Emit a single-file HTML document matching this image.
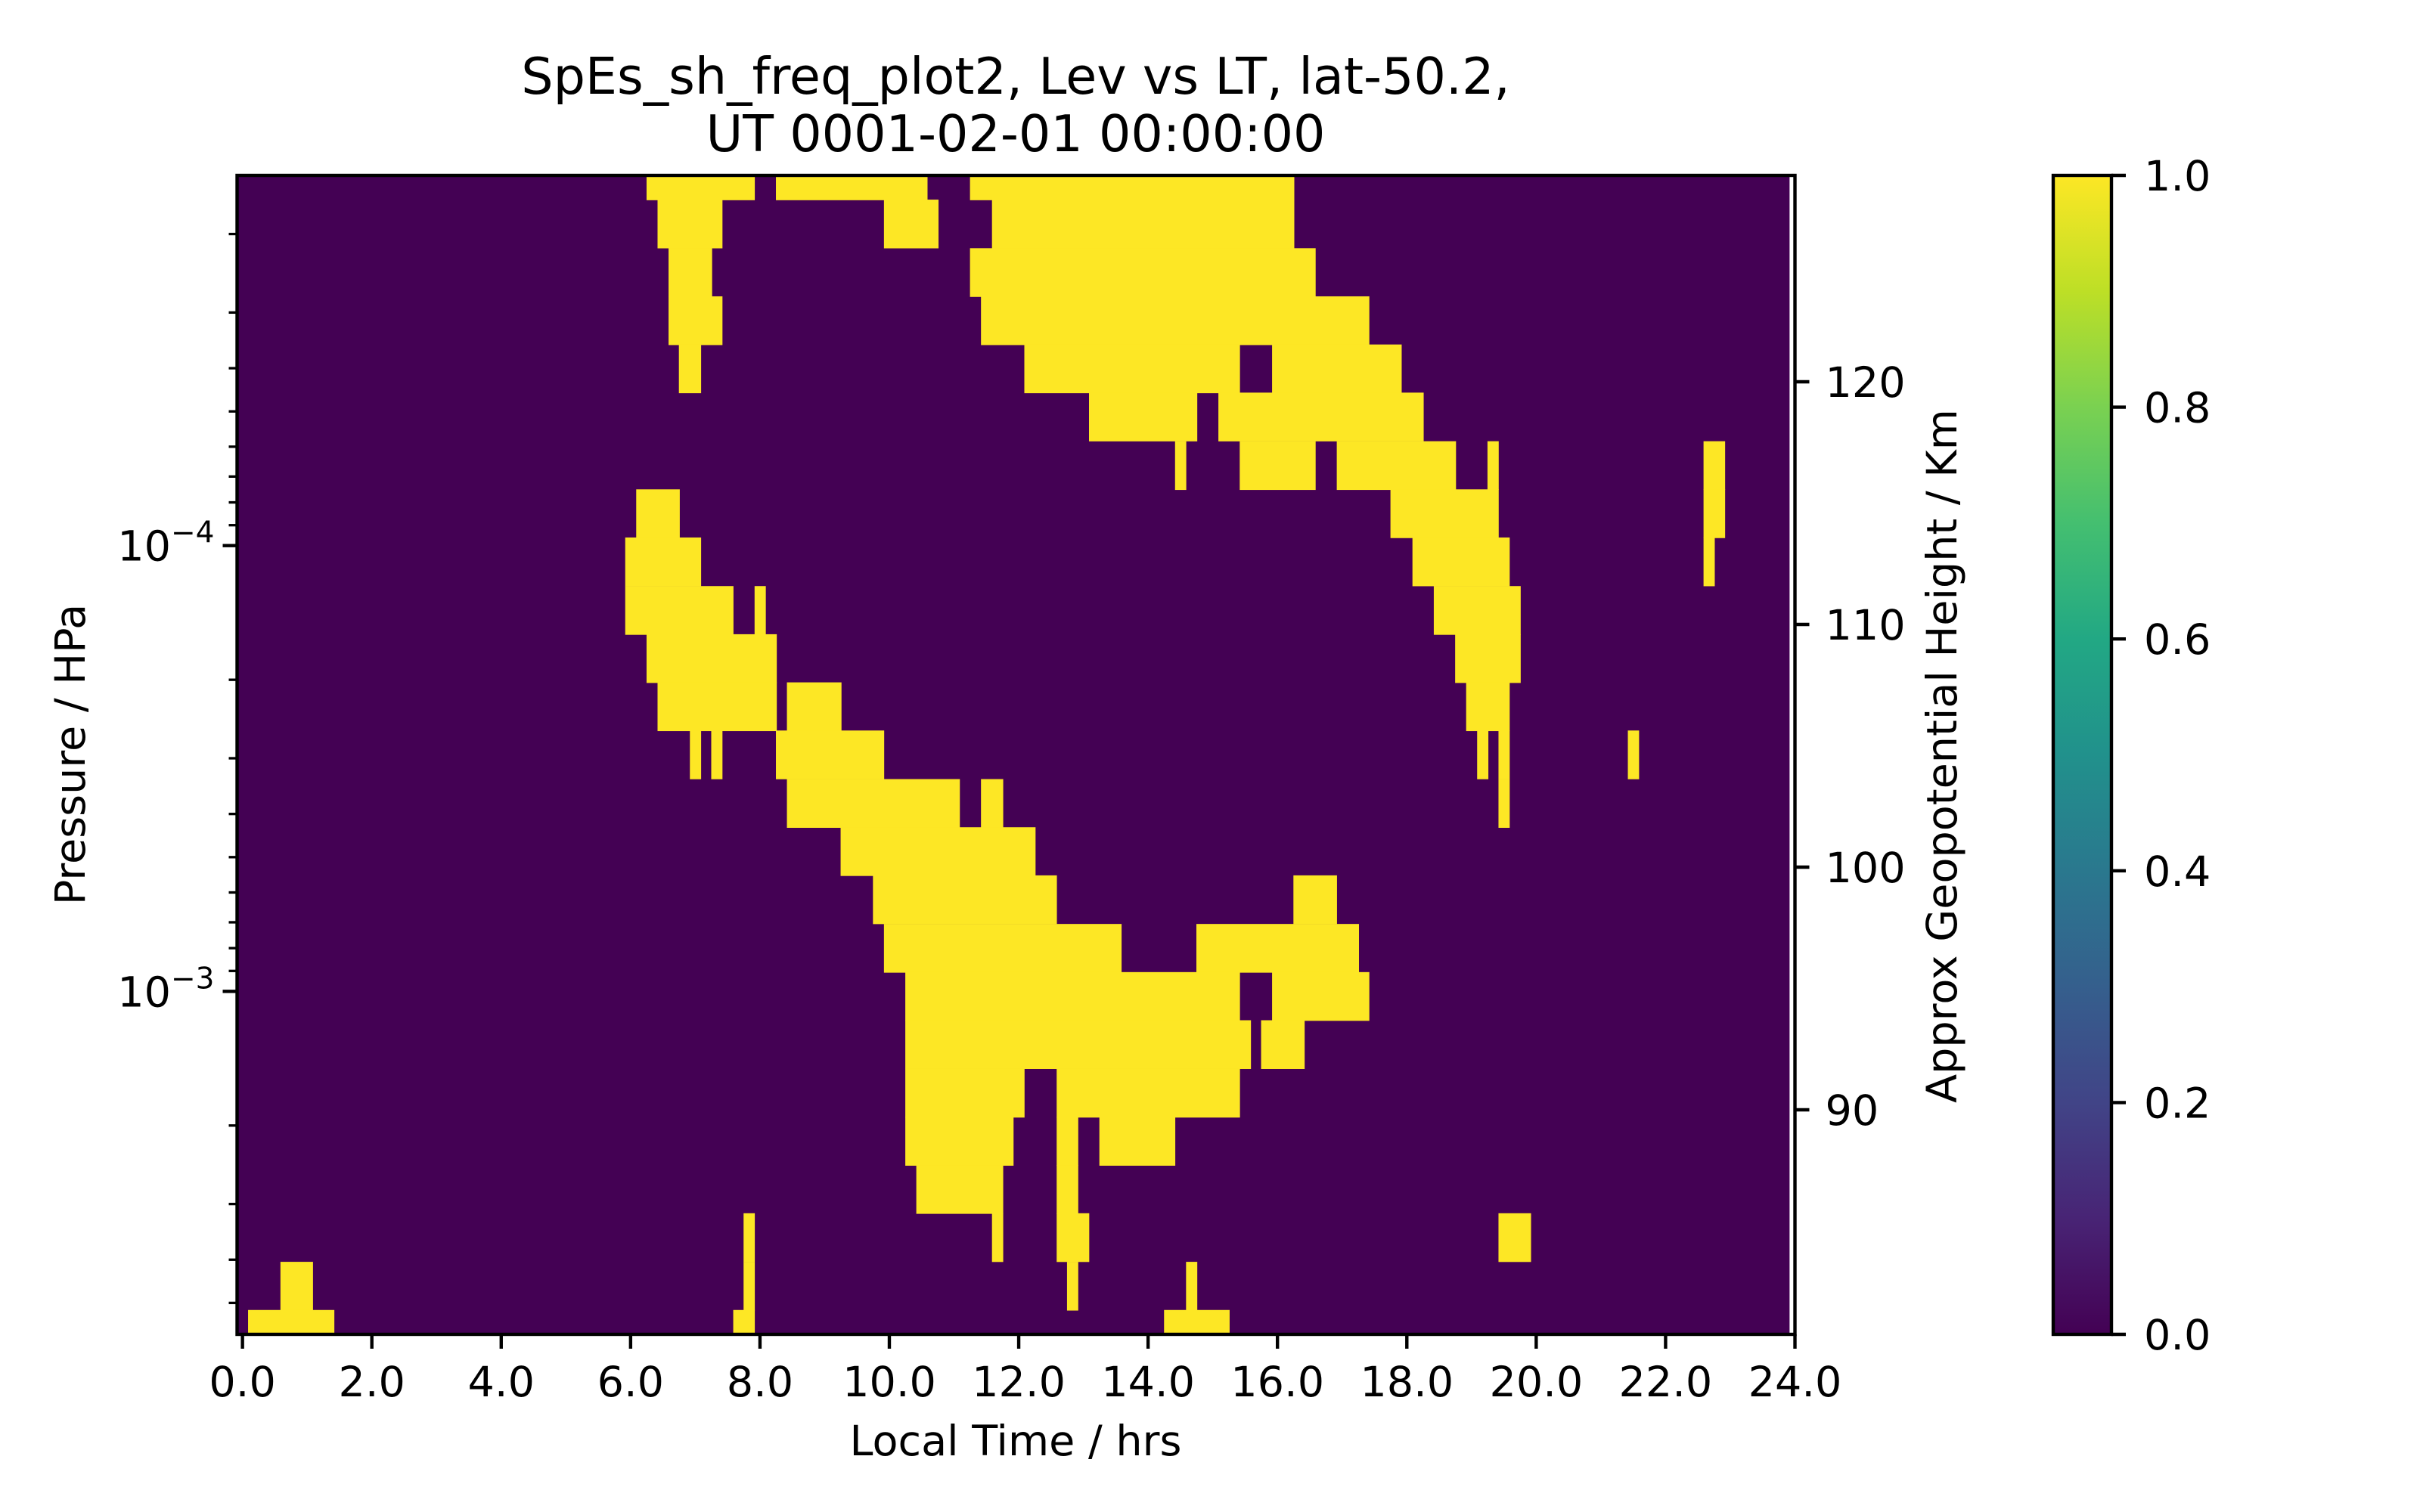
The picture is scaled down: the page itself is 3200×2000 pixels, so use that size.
<!DOCTYPE html>
<html><head><meta charset="utf-8"><style>
html,body{margin:0;padding:0;background:#fff;}
svg{display:block;font-family:"DejaVu Sans","Liberation Sans",sans-serif;}
</style></head><body>
<svg id="chart" width="3200" height="2000" viewBox="0 0 3200 2000" xmlns="http://www.w3.org/2000/svg">
<defs>
<linearGradient id="viridis" x1="0" y1="1" x2="0" y2="0">
<stop offset="0" stop-color="#440154"/><stop offset="0.1" stop-color="#482475"/><stop offset="0.2" stop-color="#414487"/>
<stop offset="0.3" stop-color="#355f8d"/><stop offset="0.4" stop-color="#2a788e"/><stop offset="0.5" stop-color="#21918c"/>
<stop offset="0.6" stop-color="#22a884"/><stop offset="0.7" stop-color="#44bf70"/><stop offset="0.8" stop-color="#7ad151"/>
<stop offset="0.9" stop-color="#bddf26"/><stop offset="1" stop-color="#fde725"/>
</linearGradient>
</defs>
<text x="1343" y="124" font-size="66.7" text-anchor="middle">SpEs_sh_freq_plot2, Lev vs LT, lat-50.2,</text>
<text x="1343" y="200" font-size="66.7" text-anchor="middle">UT 0001-02-01 00:00:00</text>
<g id="heatmap"></g>
<g id="axes"></g>
<text x="1343" y="1925" font-size="55.6" text-anchor="middle">Local Time / hrs</text>
<text transform="translate(112,998) rotate(-90)" font-size="55.6" text-anchor="middle">Pressure / HPa</text>
<text transform="translate(2587,1000) rotate(-90)" font-size="55.6" text-anchor="middle">Approx Geopotential Height / Km</text>
<g id="colorbar"></g>
</svg>
<script>
// ---- data ----
const levelLogP = [-4.830,-4.722,-4.613,-4.505,-4.397,-4.289,-4.180,-4.072,-3.964,-3.855,-3.747,-3.639,-3.531,-3.422,-3.314,-3.206,-3.097,-2.989,-2.881,-2.772,-2.664,-2.556,-2.448,-2.339,-2.231];
// runs of value 1 per level: [first LT centre, last LT centre] in hours
const yellowRuns = [
 [[6.33,7.83],[8.33,10.5],[11.33,16.17]],
 [[6.5,7.33],[10,10.67],[11.67,16.17]],
 [[6.67,7.17],[11.33,16.5]],
 [[6.67,7.33],[11.5,17.33]],
 [[6.83,7.0],[12.17,15.33],[16,17.83]],
 [[13.17,14.67],[15.17,18.17]],
 [[14.5,14.5],[15.5,16.5],[17,18.67],[19.33,19.33],[22.67,22.83]],
 [[6.17,6.67],[17.83,19.33],[22.67,22.83]],
 [[6,7],[18.17,19.5],[22.67,22.67]],
 [[6,7.5],[8,8],[18.5,19.67]],
 [[6.33,8.17],[18.83,19.67]],
 [[6.5,8.17],[8.5,9.17],[19,19.5]],
 [[7,7],[7.33,7.33],[8.33,9.83],[19.17,19.17],[19.5,19.5],[21.5,21.5]],
 [[8.5,11],[11.5,11.67],[19.5,19.5]],
 [[9.33,12.17]],
 [[9.83,12.5],[16.33,16.83]],
 [[10,13.5],[14.83,17.17]],
 [[10.33,15.33],[16,17.33]],
 [[10.33,15.5],[15.83,16.33]],
 [[10.33,12],[12.67,15.33]],
 [[10.33,11.83],[12.67,12.83],[13.33,14.33]],
 [[10.5,11.67],[12.67,12.83]],
 [[7.83,7.83],[11.67,11.67],[12.67,13],[19.5,19.83]],
 [[0.67,1],[7.83,7.83],[12.83,12.83],[14.67,14.67]],
 [[0.17,1.33],[7.67,7.83],[14.33,15.17]]
];
const xTickValues = [0,2,4,6,8,10,12,14,16,18,20,22,24];
const xTickLabels = ["0.0","2.0","4.0","6.0","8.0","10.0","12.0","14.0","16.0","18.0","20.0","22.0","24.0"];
const yMajorExp = [-4,-3];
const heightTicks = [90,100,110,120];
const cbarTicks = [0,0.2,0.4,0.6,0.8,1.0];
const cbarLabels = ["0.0","0.2","0.4","0.6","0.8","1.0"];

// ---- layout ----
const L=313.5, R=2373.5, T=232, B=1765;
const xMin=-1/12, xMax=24;
const yTop=-4.8305, yBot=-2.2305;
const dx=1/6, dlog=0.10833;
const X = h => L + (h - xMin)/(xMax - xMin)*(R - L);
const Y = lp => T + (lp - yTop)/(yBot - yTop)*(B - T);
const H = km => 505 + (120 - km)*32.1;
const NS="http://www.w3.org/2000/svg";
function mk(tag, parent, attrs){ const e=document.createElementNS(NS,tag); for(const k in attrs) e.setAttribute(k,attrs[k]); parent.appendChild(e); return e; }

// ---- heatmap ----
const hm=document.getElementById('heatmap');
const bg=mk('rect',hm,{x:X(-1/12),y:T,width:X(24-1/12)-X(-1/12),height:B-T,fill:'#440154'});


yellowRuns.forEach((runs,i)=>{
  const y0=Math.max(T,Y(levelLogP[i]-dlog/2)), y1=Math.min(B,Y(levelLogP[i]+dlog/2));
  runs.forEach(r=>{
    const x0=X(r[0]-dx/2), x1=X(r[1]+dx/2);
    const c=mk('rect',hm,{x:x0.toFixed(2),y:y0.toFixed(2),width:(x1-x0+0.6).toFixed(2),height:(y1-y0+0.6).toFixed(2),fill:'#fde725'});
    
    
  });
});

// ---- axes ----
const ax=document.getElementById('axes');
const frame=mk('rect',ax,{x:L,y:T,width:R-L,height:B-T,fill:'none',stroke:'#000','stroke-width':4.4});


xTickValues.forEach((v,i)=>{
  const x=X(v);
  const t=mk('line',ax,{x1:x,y1:B,x2:x,y2:B+19,stroke:'#000','stroke-width':4.4});
  
  
  const lb=mk('text',ax,{x:x,y:B+82,'font-size':55.6,'text-anchor':'middle'});
  lb.textContent=xTickLabels[i];
  
  
});
for(let d=-5; d<=-2; d++){
  for(let k=1;k<=9;k++){
    const lp=d+Math.log10(k);
    if(lp<yTop||lp>yBot) continue;
    const y=Y(lp), major=(k===1);
    const t=mk('line',ax,{x1:L,y1:y,x2:L-(major?19:11),y2:y,stroke:'#000','stroke-width':major?4.4:3.3});
    
    
  }
}
yMajorExp.forEach(e=>{
  const y=Y(e);
  const lb=mk('text',ax,{x:L-30,y:y+20,'font-size':55.6,'text-anchor':'end'});
  
  
  const a=document.createElementNS(NS,'tspan'); a.textContent='10'; lb.appendChild(a);
  const s=document.createElementNS(NS,'tspan'); s.setAttribute('dy','-24'); s.setAttribute('font-size','39'); s.textContent='\u2212'+Math.abs(e); lb.appendChild(s);
});
heightTicks.forEach(h=>{
  const y=H(h);
  const t=mk('line',ax,{x1:R,y1:y,x2:R+19,y2:y,stroke:'#000','stroke-width':4.4});
  
  
  const lb=mk('text',ax,{x:R+40,y:y+20,'font-size':55.6});
  lb.textContent=h;
  
  
});

// ---- colorbar ----
const cb=document.getElementById('colorbar');
const CL=2715, CR=2792, CT=232, CB=1765;
const cr=mk('rect',cb,{x:CL,y:CT,width:CR-CL,height:CB-CT,fill:'url(#viridis)',stroke:'#000','stroke-width':4.4});


cbarTicks.forEach((v,i)=>{
  const y=CB-(CB-CT)*v;
  const t=mk('line',cb,{x1:CR,y1:y,x2:CR+19,y2:y,stroke:'#000','stroke-width':4.4});
  
  
  const lb=mk('text',cb,{x:CR+43,y:y+20,'font-size':55.6});
  lb.textContent=cbarLabels[i];
  
  
});
</script>
</body></html>
